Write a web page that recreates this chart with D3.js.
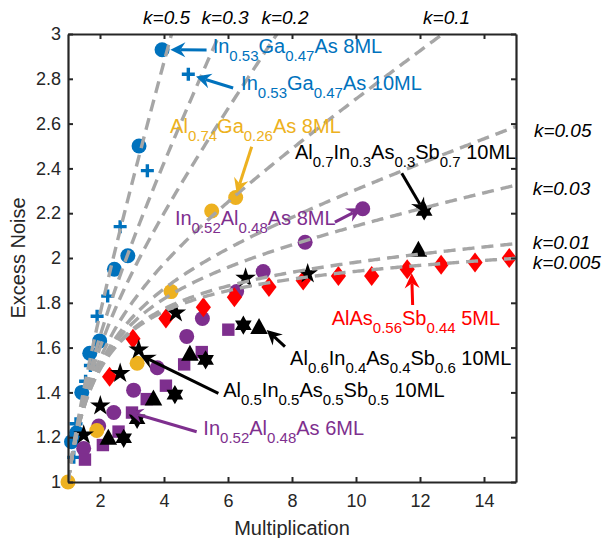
<!DOCTYPE html>
<html><head><meta charset="utf-8">
<script src="https://cdn.jsdelivr.net/npm/d3@7"></script>
<style>
body{margin:0;background:#fff;}
svg{display:block;font-family:"Liberation Sans",Arial,Helvetica,sans-serif;}
text{white-space:pre;}
</style></head>
<body><svg id="c" width="605" height="538"></svg>
<script>
// ---------- data ----------
const xTicks = [2,4,6,8,10,12,14];
const yTicks = [1,1.2,1.4,1.6,1.8,2,2.2,2.4,2.6,2.8,3];
const yTickLabels = ["1","1.2","1.4","1.6","1.8","2","2.2","2.4","2.6","2.8","3"];
const kValues = [0.5,0.3,0.2,0.1,0.05,0.03,0.01,0.005];
const kLabels = ["k=0.5","k=0.3","k=0.2","k=0.1","k=0.05","k=0.03","k=0.01","k=0.005"];
const kLabelM = [4.08,5.91,7.78,12.83,15.56,15.52,15.52,15.52];
const kLabelF = [3.045,3.045,3.045,3.045,2.542,2.281,2.038,1.949];
const kLabelAnchor = ["middle","middle","middle","middle","start","start","start","start"];

const inGaAs8M = [1.11,1.27,1.43,1.68,1.99,2.45,2.87,3.22,3.94];
const inGaAs8F = [1.18,1.22,1.40,1.575,1.63,1.95,2.01,2.50,2.93];
const inGaAs10M = [1.18,1.25,1.55,1.70,1.91,2.24,2.63,3.48,4.76];
const inGaAs10F = [1.11,1.26,1.45,1.52,1.74,1.83,2.14,2.39,2.82];
const alGaAsM = [1.0,1.9,3.16,4.22,5.49,6.24];
const alGaAsF = [1.0,1.23,1.53,1.85,2.21,2.27];
const inAlAs8M = [1.49,1.96,2.43,3.05,3.79,4.71,5.20,6.27,7.10,8.41,10.21];
const inAlAs8F = [1.15,1.25,1.31,1.41,1.51,1.65,1.73,1.85,1.94,2.07,2.22];
const inAlAs6M = [1.53,2.09,2.58,3.0,3.46,4.06,4.63,5.18,6.01];
const inAlAs6F = [1.10,1.165,1.225,1.31,1.37,1.43,1.525,1.58,1.68];
const alAsSbM = [2.30,3.03,4.06,5.23,6.20,7.28,8.35,9.45,10.49,11.6,12.66,13.72,14.79];
const alAsSbF = [1.47,1.64,1.73,1.78,1.825,1.87,1.90,1.92,1.92,1.95,1.97,1.98,2.0];
const al06M = [2.26,3.67,4.81,6.97,11.95];
const al06F = [1.195,1.37,1.57,1.69,2.035];
const al07M = [2.74,3.16,4.34,5.30,6.48,12.13];
const al07F = [1.195,1.28,1.39,1.545,1.70,2.21];
const al05M = [1.49,2.01,2.63,3.21,4.37,6.55,8.49];
const al05F = [1.21,1.34,1.485,1.59,1.755,1.91,1.93];

const seriesNames = ["InGaAs8","InGaAs10","InAlAs8","InAlAs6","AlGaAs","AlAsSb","Al06","Al07","Al05"];
const seriesM = [inGaAs8M,inGaAs10M,inAlAs8M,inAlAs6M,alGaAsM,alAsSbM,al06M,al07M,al05M];
const seriesF = [inGaAs8F,inGaAs10F,inAlAs8F,inAlAs6F,alGaAsF,alAsSbF,al06F,al07F,al05F];
const seriesMarker = ["circle","plus","circle","square","circle","diamond","triangle","hexagram","pentagram"];
const seriesColor = ["#0072BD","#0072BD","#7E2F8E","#7E2F8E","#EDB120","#FF0000","#000000","#000000","#000000"];

// annotations
const annText = ["In_{0.53}Ga_{0.47}As 8ML","In_{0.53}Ga_{0.47}As 10ML","Al_{0.74}Ga_{0.26}As 8ML",
  "Al_{0.7}In_{0.3}As_{0.3}Sb_{0.7} 10ML","In_{0.52}Al_{0.48}As 8ML","AlAs_{0.56}Sb_{0.44} 5ML",
  "Al_{0.6}In_{0.4}As_{0.4}Sb_{0.6} 10ML","Al_{0.5}In_{0.5}As_{0.5}Sb_{0.5} 10ML","In_{0.52}Al_{0.48}As 6ML"];
const annColor = ["#0072BD","#0072BD","#EDB120","#000000","#7E2F8E","#FF0000","#000000","#000000","#7E2F8E"];
const annM = [5.52,6.41,4.19,8.09,4.34,9.24,7.94,5.85,5.23];
const annF = [2.915,2.75,2.558,2.442,2.147,1.701,1.522,1.381,1.21];
const arrTailM = [5.33,6.16,6.74,11.43,9.34,11.77,7.78,5.70,5.02];
const arrTailF = [2.929,2.759,2.497,2.378,2.16,1.79,1.604,1.396,1.2245];
const arrTipM = [4.2,5.0,6.27,12.16,10.18,11.74,7.21,3.25,2.88];
const arrTipF = [2.93,2.81,2.289,2.20,2.222,1.932,1.679,1.567,1.314];

// ---------- drawing ----------
const svg = d3.select("#c");
svg.append("rect").attr("width",605).attr("height",538).attr("fill","#fff");
const x = d3.scaleLinear().domain([1,15]).range([68,516]);
const y = d3.scaleLinear().domain([1,3]).range([482,34]);
const axisColor = "#262626";

svg.append("defs").append("clipPath").attr("id","plot")
  .append("rect").attr("x",x(1)).attr("y",y(3)).attr("width",x(15)-x(1)).attr("height",y(1)-y(3));

function markerPath(t){
  if(t==="circle") return d3.symbol(d3.symbolCircle, Math.PI*7.5*7.5)();
  if(t==="square") return "M-6.2,-6.2H6.2V6.2H-6.2Z";
  if(t==="diamond") return "M0,-10L7.6,0L0,10L-7.6,0Z";
  if(t==="triangle") return "M0,-9.5L8.8,6.5L-8.8,6.5Z";
  if(t==="plus") return "M-6.5,0H6.5M0,-6.5V6.5";
  let n = t==="pentagram"?5:6, ro = t==="pentagram"?10.8:9.6, ri = t==="pentagram"?ro*0.382:ro*0.577;
  let pts=[];
  for(let i=0;i<2*n;i++){const a=-Math.PI/2+i*Math.PI/n; const r=i%2?ri:ro; pts.push([r*Math.cos(a),r*Math.sin(a)]);}
  return "M"+pts.map(p=>p[0].toFixed(2)+","+p[1].toFixed(2)).join("L")+"Z";
}

const gm = svg.append("g");
seriesM.forEach((ms,si)=>{
  const pts = ms.map((m,i)=>[m,seriesF[si][i]]);
  const isPlus = seriesMarker[si]==="plus";
  gm.append("g").selectAll("path").data(pts).join("path")
    .attr("transform",d=>`translate(${x(d[0])},${y(d[1])})`)
    .attr("d",markerPath(seriesMarker[si]))
    .attr("fill",isPlus?"none":seriesColor[si])
    .attr("stroke",isPlus?seriesColor[si]:"none")
    .attr("stroke-width",isPlus?3.4:0);
});

// McIntyre curves
const mGrid = d3.range(1,15.0001,0.05);
const line = d3.line().x(d=>x(d[0])).y(d=>y(d[1]));
const gl = svg.append("g").attr("clip-path","url(#plot)");
kValues.forEach(k=>{
  gl.append("path").attr("d",line(mGrid.map(m=>[m,k*m+(1-k)*(2-1/m)])))
    .attr("fill","none").attr("stroke","#A6A6A6").attr("stroke-width",3.4)
    .attr("stroke-dasharray","12,7");
});

// axes
function styleAxis(g){
  g.selectAll(".domain").attr("stroke",axisColor).attr("stroke-width",2.2);
  g.selectAll(".tick line").attr("stroke",axisColor).attr("stroke-width",2);
  g.selectAll(".tick text").attr("fill","#262626").attr("font-size",18).attr("font-family","Liberation Sans, Arial, sans-serif");
}
svg.append("g").attr("transform",`translate(0,${y(1)})`)
  .call(d3.axisBottom(x).tickValues(xTicks).tickSizeInner(-5).tickSizeOuter(0).tickPadding(12).tickFormat(d3.format("d")))
  .call(styleAxis);
svg.append("g").attr("transform",`translate(0,${y(3)})`)
  .call(d3.axisTop(x).tickValues(xTicks).tickSizeInner(-5).tickSizeOuter(0).tickFormat(""))
  .call(styleAxis);
svg.append("g").attr("transform",`translate(${x(1)},0)`)
  .call(d3.axisLeft(y).tickValues(yTicks).tickSizeInner(-5).tickSizeOuter(0).tickPadding(7).tickFormat((d,i)=>yTickLabels[i]))
  .call(styleAxis);
svg.append("g").attr("transform",`translate(${x(15)},0)`)
  .call(d3.axisRight(y).tickValues(yTicks).tickSizeInner(-5).tickSizeOuter(0).tickFormat(""))
  .call(styleAxis);

svg.append("text").attr("x",(x(1)+x(15))/2).attr("y",535).attr("text-anchor","middle")
  .attr("font-size",20).attr("fill","#262626").text("Multiplication");
svg.append("text").attr("transform",`translate(25,${(y(1)+y(3))/2}) rotate(-90)`).attr("text-anchor","middle")
  .attr("font-size",20).attr("fill","#262626").text("Excess Noise");

// k labels
kLabels.forEach((t,i)=>{
  svg.append("text").attr("x",x(kLabelM[i])).attr("y",y(kLabelF[i])).attr("text-anchor",kLabelAnchor[i])
    .attr("font-size",19).attr("font-style","italic").attr("fill","#000").text(t);
});

// arrows
function arrow(x1,y1,x2,y2,color){
  const dx=x2-x1, dy=y2-y1, L=Math.hypot(dx,dy), ux=dx/L, uy=dy/L, px=-uy, py=ux;
  const hl=15, hw=7.5, notch=5;
  const bx=x2-ux*hl, by=y2-uy*hl;
  const nx=x2-ux*(hl-notch), ny=y2-uy*(hl-notch);
  const g=svg.append("g");
  g.append("line").attr("x1",x1).attr("y1",y1).attr("x2",nx).attr("y2",ny).attr("stroke",color).attr("stroke-width",3);
  g.append("path").attr("d",`M${x2},${y2}L${bx+px*hw},${by+py*hw}L${nx},${ny}L${bx-px*hw},${by-py*hw}Z`).attr("fill",color);
}
annText.forEach((t,i)=>{
  arrow(x(arrTailM[i]),y(arrTailF[i]),x(arrTipM[i]),y(arrTipF[i]),annColor[i]);
});

// annotation text with subscripts
annText.forEach((t,i)=>{
  const txt = svg.append("text").attr("x",x(annM[i])).attr("y",y(annF[i])).attr("fill",annColor[i]).attr("font-size",20);
  const parts = t.split(/(_\{[^}]*\})/).filter(s=>s.length);
  let sub=false;
  parts.forEach(p=>{
    if(p.startsWith("_{")){
      txt.append("tspan").attr("dy",sub?0:8).attr("font-size",15).text(p.slice(2,-1)); sub=true;
    } else {
      txt.append("tspan").attr("dy",sub?-8:0).text(p); sub=false;
    }
  });
});
</script></body></html>
